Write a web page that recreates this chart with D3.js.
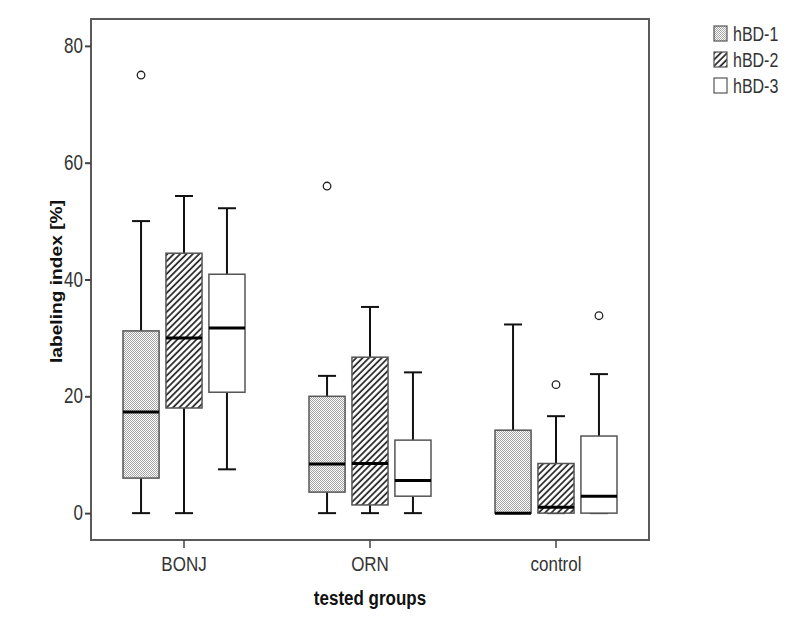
<!DOCTYPE html>
<meta charset="utf-8">
<style>
  body { margin: 0; background: #fff; }
  text { font-family: 'Liberation Sans', Arial, sans-serif; }
  .tick text { fill: #333; font-size: 17px; }
</style>
<body>
<svg id="chart" width="803" height="640"></svg>
<script src="https://cdn.jsdelivr.net/npm/d3@7"></script>
<script>
// groups and series
var groups = ["BONJ", "ORN", "control"];
var series = ["hBD-1", "hBD-2", "hBD-3"];
var yTicks = [0, 20, 40, 60, 80];

// box stats per series, one value per group: [BONJ, ORN, control]
var whiskerLow = {
  "hBD-1": [0, 0, 0],
  "hBD-2": [0, 0, 0],
  "hBD-3": [7.5, 0, 0]
};
var q1 = {
  "hBD-1": [6.0, 3.6, 0],
  "hBD-2": [18.0, 1.4, 0],
  "hBD-3": [20.7, 2.9, 0]
};
var medians = {
  "hBD-1": [17.3, 8.4, 0],
  "hBD-2": [30.0, 8.5, 1.0],
  "hBD-3": [31.7, 5.6, 2.9]
};
var q3 = {
  "hBD-1": [31.2, 20.0, 14.2],
  "hBD-2": [44.5, 26.7, 8.5],
  "hBD-3": [40.9, 12.5, 13.2]
};
var whiskerHigh = {
  "hBD-1": [50.0, 23.5, 32.3],
  "hBD-2": [54.3, 35.3, 16.6],
  "hBD-3": [52.2, 24.1, 23.8]
};
var outliers = {
  "hBD-1": [[75.0], [56.0], []],
  "hBD-2": [[], [], [22.0]],
  "hBD-3": [[], [], [33.8]]
};

var svg = d3.select("#chart");
var plotL = 91, plotR = 649, plotT = 19, plotB = 540;

var x = d3.scaleBand().domain(groups).range([plotL, plotR]);
var xs = d3.scaleBand().domain(series).range([-61, 61]).paddingInner(0.16);
var y = d3.scaleLinear().domain([-4.6, 84.6]).range([plotB, plotT]);

// patterns
var defs = svg.append("defs");
var dots = defs.append("pattern").attr("id", "dots")
    .attr("width", 2).attr("height", 2).attr("patternUnits", "userSpaceOnUse");
dots.append("rect").attr("width", 2).attr("height", 2).attr("fill", "#fff");
dots.append("rect").attr("width", 1).attr("height", 1).attr("fill", "#a4a4a4");
dots.append("rect").attr("x", 1).attr("y", 1).attr("width", 1).attr("height", 1).attr("fill", "#a4a4a4");

var hatch = defs.append("pattern").attr("id", "hatch")
    .attr("width", 4.5).attr("height", 4.5).attr("patternUnits", "userSpaceOnUse")
    .attr("patternTransform", "rotate(45)");
hatch.append("rect").attr("width", 4.5).attr("height", 4.5).attr("fill", "#fff");
hatch.append("line").attr("x1", 1).attr("y1", 0).attr("x2", 1).attr("y2", 4.5)
    .attr("stroke", "#222").attr("stroke-width", 1.7);

var fills = { "hBD-1": "url(#dots)", "hBD-2": "url(#hatch)", "hBD-3": "#fff" };

// frame
svg.append("rect")
    .attr("x", plotL).attr("y", plotT)
    .attr("width", plotR - plotL).attr("height", plotB - plotT)
    .attr("fill", "none").attr("stroke", "#5a5a5a").attr("stroke-width", 2);

// axes
var yAxis = svg.append("g")
    .attr("transform", "translate(" + plotL + ",0)")
    .call(d3.axisLeft(y).tickValues(yTicks).tickSize(6).tickPadding(2));
yAxis.select(".domain").remove();
yAxis.selectAll(".tick line").attr("stroke", "#444").attr("stroke-width", 2);
yAxis.selectAll(".tick text").attr("font-size", 17).attr("font-family", null)
    .attr("transform", "scale(1,1.3)").attr("dy", "0.3em");

var xAxis = svg.append("g")
    .attr("transform", "translate(0," + plotB + ")")
    .call(d3.axisBottom(x).tickSize(8).tickPadding(0));
xAxis.select(".domain").remove();
xAxis.selectAll(".tick line").attr("stroke", "#444").attr("stroke-width", 1.5);
xAxis.selectAll(".tick text").attr("font-size", 17).attr("font-family", null)
    .attr("y", 0).attr("dy", 0)
    .attr("transform", "translate(0,31) scale(1,1.2)");

// boxes
series.forEach(function(s) {
  var g = svg.append("g");
  groups.forEach(function(grp, i) {
    var cx = x(grp) + x.bandwidth() / 2 + xs(s) + xs.bandwidth() / 2;
    var bw = xs.bandwidth();
    // whisker stems
    g.append("line").attr("x1", cx).attr("x2", cx)
        .attr("y1", y(whiskerHigh[s][i])).attr("y2", y(q3[s][i]))
        .attr("stroke", "#111").attr("stroke-width", 2);
    g.append("line").attr("x1", cx).attr("x2", cx)
        .attr("y1", y(q1[s][i])).attr("y2", y(whiskerLow[s][i]))
        .attr("stroke", "#111").attr("stroke-width", 2);
    // caps
    [whiskerHigh[s][i], whiskerLow[s][i]].forEach(function(v) {
      g.append("line").attr("x1", cx - 9).attr("x2", cx + 9)
          .attr("y1", y(v)).attr("y2", y(v))
          .attr("stroke", "#111").attr("stroke-width", 2);
    });
    // box
    g.append("rect")
        .attr("x", cx - bw / 2).attr("width", bw)
        .attr("y", y(q3[s][i])).attr("height", Math.max(0, y(q1[s][i]) - y(q3[s][i])))
        .attr("fill", fills[s]).attr("stroke", "#555").attr("stroke-width", 1.5);
    // median
    g.append("line").attr("x1", cx - bw / 2).attr("x2", cx + bw / 2)
        .attr("y1", y(medians[s][i])).attr("y2", y(medians[s][i]))
        .attr("stroke", "#000").attr("stroke-width", 3);
    // outliers
    outliers[s][i].forEach(function(v) {
      g.append("circle").attr("cx", cx).attr("cy", y(v)).attr("r", 3.8)
          .attr("fill", "#fff").attr("stroke", "#222").attr("stroke-width", 1.3);
    });
  });
});

// axis titles
svg.append("text")
    .attr("transform", "translate(62," + ((plotT + plotB) / 2 + 2) + ") rotate(-90) scale(1.2,1)")
    .attr("text-anchor", "middle")
    .attr("font-size", 16).attr("font-weight", "bold").attr("fill", "#111")
    .text("labeling index [%]");

svg.append("text")
    .attr("transform", "translate(370,605) scale(1,1.15)")
    .attr("text-anchor", "middle")
    .attr("font-size", 17).attr("font-weight", "bold").attr("fill", "#111")
    .text("tested groups");

// legend
var legend = svg.append("g").attr("transform", "translate(714,26)");
series.forEach(function(s, i) {
  var row = legend.append("g").attr("transform", "translate(0," + (i * 26) + ")");
  row.append("rect").attr("width", 13).attr("height", 15)
      .attr("fill", fills[s]).attr("stroke", "#555").attr("stroke-width", 1.2);
  row.append("text").attr("x", 19).attr("y", 0)
      .attr("transform", "translate(0,15) scale(1,1.25)")
      .attr("font-size", 16).attr("fill", "#333")
      .text(s);
});
</script>
</body>
